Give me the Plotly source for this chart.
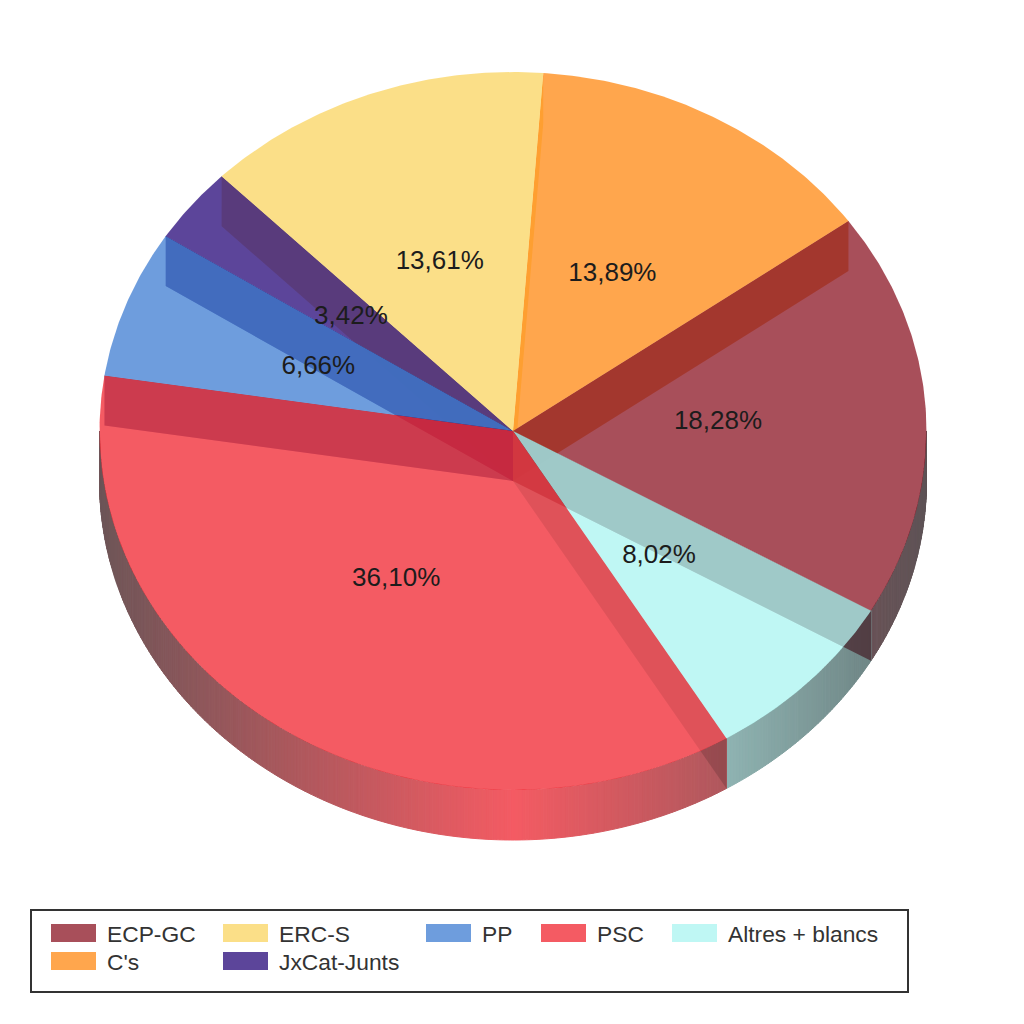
import math
import plotly.graph_objects as go

# ---- data -------------------------------------------------------------
categories = ["C's", "ECP-GC", "Altres + blancs", "PSC", "PP", "JxCat-Junts", "ERC-S"]
values = [13.89, 18.28, 8.02, 36.10, 6.66, 3.42, 13.61]
labels = ["13,89%", "18,28%", "8,02%", "36,10%", "6,66%", "3,42%", "13,61%"]
base_colors = [(255, 144, 33), (146, 35, 49), (175, 245, 241), (241, 50, 60),
               (74, 132, 212), (51, 22, 129), (250, 215, 106)]
wall_owner = [6, 0, 1, 2, 4, 5, 6]     # colour index of the wall at each slice's start
wall_order = [0, 1, 2, 3, 6, 4, 5]
wall_shade = [(0, 0, 0, 0.0), (0, 0, 0, 0.1), (62, 13, 23, 0.6), (0, 0, 0, 0.15),
              (0, 0, 0, 0.3), (20, 0, 80, 0.6), (0, 0, 0, 0.05)]
legend_rows = [["ECP-GC", "ERC-S", "PP", "PSC", "Altres + blancs"],
               ["C's", "JxCat-Junts"]]
legend_x = [51, 223, 426, 541, 672]
legend_y = [933, 961]

# ---- geometry ---------------------------------------------------------
W = H = 1024
CX, CY, RX, RY = 513, 431, 413.5, 359
DEPTH = 50 / RY
START = 4.2
TOP_ALPHA = 0.8
WALL_ALPHA = 0.95

totals = sum(values)
edges = [START]
for v in values:
    edges.append(edges[-1] + v / totals * 360)


def pt(deg, r=1.0, drop=0.0):
    a = math.radians(deg)
    return r * math.sin(a), r * math.cos(a) - drop


def rgba(c, a):
    return f"rgba({c[0]},{c[1]},{c[2]},{a})"


def poly(points, fill, name=None, line=None):
    xs = [p[0] for p in points] + [points[0][0]]
    ys = [p[1] for p in points] + [points[0][1]]
    return go.Scatter(x=xs, y=ys, mode="lines", fill="toself", fillcolor=fill,
                      line=dict(width=1 if line else 0, color=line or "rgba(0,0,0,0)"),
                      hoverinfo="skip" if name is None else "text",
                      text=name, showlegend=False)


def wall_points(ang):
    return [pt(ang, 0), pt(ang), pt(ang, drop=DEPTH), pt(ang, 0, drop=DEPTH)]


fig = go.Figure()

# radial walls
for i in wall_order:
    fig.add_trace(poly(wall_points(edges[i]), rgba(base_colors[wall_owner[i]], WALL_ALPHA)))

# outer rim, shaded by horizontal distance from the middle
GREY = (76, 84, 85)
for i, c in enumerate(base_colors):
    a0, a1 = max(edges[i], 90), min(edges[i + 1], 270)
    if a1 <= a0:
        continue
    face = [TOP_ALPHA * k + (1 - TOP_ALPHA) * 255 for k in c]
    n = max(1, int(math.ceil((a1 - a0) * 2)))
    for j in range(n):
        b0 = a0 + (a1 - a0) * j / n
        b1 = a0 + (a1 - a0) * (j + 1) / n
        mid = (b0 + b1) / 2
        s = 0.8 * abs(math.sin(math.radians(mid)))
        col = tuple(round(face[k] * (1 - s) + GREY[k] * s) for k in range(3))
        css = f"rgb({col[0]},{col[1]},{col[2]})"
        fig.add_trace(poly([pt(b0), pt(b1), pt(b1, drop=DEPTH), pt(b0, drop=DEPTH)], css, line=css))

# darkening of the walls, which also shows where a wall meets the rim
for i in wall_order:
    sh = wall_shade[i]
    if sh[3] > 0:
        fig.add_trace(poly(wall_points(edges[i]), rgba(sh[:3], sh[3])))

# translucent top faces
for i, c in enumerate(base_colors):
    n = max(2, int((edges[i + 1] - edges[i]) * 2))
    arc = [pt(edges[i] + (edges[i + 1] - edges[i]) * j / n) for j in range(n + 1)]
    fig.add_trace(poly([(0, 0)] + arc, rgba(c, TOP_ALPHA), name=f"{categories[i]}: {labels[i]}"))

# value labels at mid radius of each slice
lx, ly = [], []
for i in range(len(values)):
    x, y = pt((edges[i] + edges[i + 1]) / 2, 0.5)
    lx.append(x - 1.5 / RX)
    ly.append(y)
fig.add_trace(go.Scatter(x=lx, y=ly, mode="text", text=labels, textposition="middle center",
                         textfont=dict(family="Liberation Sans", size=26, color="#1c1c1c"),
                         hoverinfo="skip", showlegend=False))

# ---- legend -----------------------------------------------------------
shapes = [dict(type="rect", xref="paper", yref="paper",
               x0=31 / W, x1=908 / W, y0=1 - 992 / H, y1=1 - 910 / H,
               line=dict(color="#333333", width=2), fillcolor="rgba(0,0,0,0)")]
annotations = []
for r, row in enumerate(legend_rows):
    for k, name in enumerate(row):
        c = base_colors[categories.index(name)]
        face = tuple(round(TOP_ALPHA * q + (1 - TOP_ALPHA) * 255) for q in c)
        shapes.append(dict(type="rect", xref="paper", yref="paper",
                           x0=legend_x[k] / W, x1=(legend_x[k] + 45) / W,
                           y0=1 - (legend_y[r] + 9) / H, y1=1 - (legend_y[r] - 9) / H,
                           line=dict(width=0), fillcolor=f"rgb({face[0]},{face[1]},{face[2]})"))
        annotations.append(dict(xref="paper", yref="paper", x=(legend_x[k] + 53.5) / W,
                                y=1 - (legend_y[r] + 1) / H, text=name, showarrow=False,
                                xanchor="left", yanchor="middle",
                                font=dict(family="Liberation Sans", size=22.8, color="#333333")))

fig.update_layout(
    width=W, height=H, margin=dict(l=0, r=0, t=0, b=0),
    paper_bgcolor="white", plot_bgcolor="white", showlegend=False,
    shapes=shapes, annotations=annotations,
    xaxis=dict(range=[-CX / RX, (W - CX) / RX], visible=False, fixedrange=True),
    yaxis=dict(range=[(CY - H) / RY, CY / RY], visible=False, fixedrange=True),
)
fig.write_html("out.html", config=dict(displayModeBar=False),
               post_script="document.body.style.margin='0';document.body.style.overflow='hidden';")
